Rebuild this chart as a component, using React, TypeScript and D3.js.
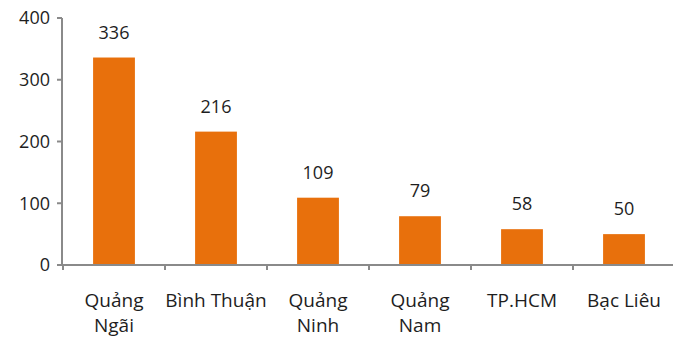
import React from "react";
import * as d3 from "d3";

const categories: string[][] = [
  ["Quảng", "Ngãi"],
  ["Bình Thuận"],
  ["Quảng", "Ninh"],
  ["Quảng", "Nam"],
  ["TP.HCM"],
  ["Bạc Liêu"],
];
const values: number[] = [336, 216, 109, 79, 58, 50];
const yTicks: number[] = [0, 100, 200, 300, 400];

const W = 673;
const H = 337;
const FONT = "'Open Sans', 'Noto Sans', sans-serif";
const BAR = "#e8700c";
const AXIS = "#8a8a8a";
const TEXT = "#1e1e1e";

export default function App() {
  const keys = categories.map((_, i) => String(i));
  const x = d3.scaleBand<string>().domain(keys).range([63, 675]).padding(0);
  const y = d3.scaleLinear().domain([0, 400]).range([265, 18]);
  const bw = x.bandwidth();
  const barW = bw * 0.41;

  return (
    <svg
      width={W}
      height={H}
      style={{ position: "absolute", left: 0, top: 0, background: "#fff" }}
      fontFamily={FONT}
    >
      {/* bars */}
      {values.map((v, i) => {
        const x0 = (x(String(i)) as number) + (bw - barW) / 2;
        return (
          <g key={i}>
            <rect x={x0} y={y(v)} width={barW} height={y(0) - y(v)} fill={BAR} />
            <text
              x={x0 + barW / 2}
              y={y(v) - 19}
              textAnchor="middle"
              fontSize={18}
              fill={TEXT}
            >
              {v}
            </text>
          </g>
        );
      })}

      {/* y axis */}
      <line x1={62} x2={62} y1={y(400)} y2={y(0)} stroke={AXIS} strokeWidth={2} />
      {yTicks.map((t) => (
        <g key={t}>
          <line x1={57} x2={62} y1={y(t)} y2={y(t)} stroke={AXIS} strokeWidth={2} />
          <text
            x={50}
            y={y(t)}
            dy="0.35em"
            textAnchor="end"
            fontSize={18}
            fill={TEXT}
          >
            {t}
          </text>
        </g>
      ))}

      {/* x axis */}
      <line x1={57} x2={W} y1={y(0)} y2={y(0)} stroke={AXIS} strokeWidth={2} />
      {keys.map((k) => (
        <line
          key={k}
          x1={x(k) as number}
          x2={x(k) as number}
          y1={y(0)}
          y2={y(0) + 5}
          stroke={AXIS}
          strokeWidth={2}
        />
      ))}
      {categories.map((lines, i) => (
        <text
          key={i}
          x={(x(String(i)) as number) + bw / 2}
          y={307}
          textAnchor="middle"
          fontSize={19}
          fill={TEXT}
        >
          {lines.map((ln, j) => (
            <tspan key={j} x={(x(String(i)) as number) + bw / 2} dy={j === 0 ? 0 : 25}>
              {ln}
            </tspan>
          ))}
        </text>
      ))}
    </svg>
  );
}
